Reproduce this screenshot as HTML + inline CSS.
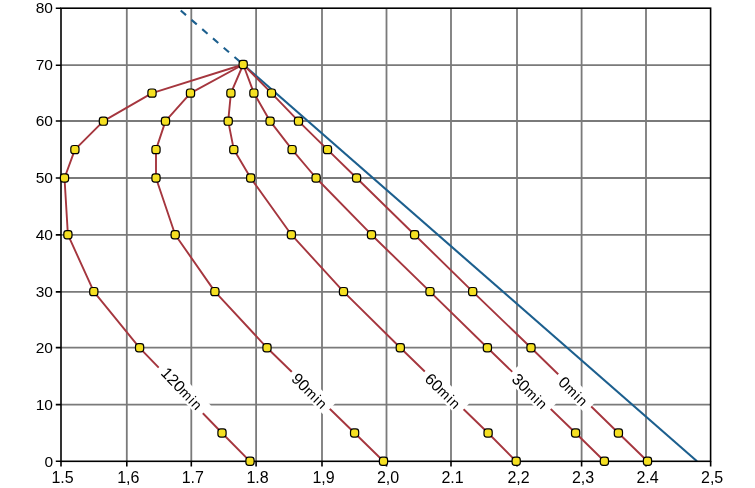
<!DOCTYPE html>
<html><head><meta charset="utf-8"><style>html,body{margin:0;padding:0;background:#fff;width:755px;height:488px;overflow:hidden}svg{display:block;filter:blur(0.3px)}</style></head>
<body>
<svg width="755" height="488" viewBox="0 0 755 488">
<rect width="755" height="488" fill="#fff"/>
<path d="M126.8 8.2V461.3 M191.3 8.2V461.3 M256.1 8.2V461.3 M322.0 8.2V461.3 M386.5 8.2V461.3 M451.0 8.2V461.3 M517.0 8.2V461.3 M581.6 8.2V461.3 M646.0 8.2V461.3 M61 65.2H710.6 M61 121.0H710.6 M61 178.0H710.6 M61 234.9H710.6 M61 291.9H710.6 M61 347.6H710.6 M61 404.6H710.6" stroke="#7a7a7a" stroke-width="1.8" fill="none"/>
<line x1="243.2" y1="64.5" x2="697.0" y2="461.3" stroke="#1c5f8e" stroke-width="2.1"/>
<line x1="178.0" y1="8.2" x2="243.2" y2="64.5" stroke="#1c5f8e" stroke-width="2.1" stroke-dasharray="7 7.2" stroke-dashoffset="10.6"/>
<path d="M243.2 64.5 L152 93.1 L103.4 121.15 L74.9 149.6 L64.5 178.0 L67.9 234.7 L93.8 291.6 L139.6 347.8 L222 433.0 L250 461.3" stroke="#a5363e" stroke-width="1.9" fill="none" stroke-linejoin="round"/>
<path d="M243.2 64.5 L190.5 93.1 L165.5 121.15 L156 149.6 L156 178.0 L175.2 234.7 L214.9 291.6 L267 347.8 L354.6 433.0 L383.5 461.3" stroke="#a5363e" stroke-width="1.9" fill="none" stroke-linejoin="round"/>
<path d="M243.2 64.5 L230.9 93.1 L228.2 121.15 L233.8 149.6 L250.7 178.0 L291.4 234.7 L343.5 291.6 L400.3 347.8 L488.1 433.0 L516.2 461.3" stroke="#a5363e" stroke-width="1.9" fill="none" stroke-linejoin="round"/>
<path d="M243.2 64.5 L253.9 93.1 L270.1 121.15 L292.1 149.6 L316.1 178.0 L371.5 234.7 L430 291.6 L487.4 347.8 L575.6 433.0 L604.4 461.3" stroke="#a5363e" stroke-width="1.9" fill="none" stroke-linejoin="round"/>
<path d="M243.2 64.5 L271.5 93.1 L298.5 121.15 L327.5 149.6 L356.6 178.0 L414.6 234.7 L472.7 291.6 L531 347.8 L618.4 433.0 L647.5 461.3" stroke="#a5363e" stroke-width="1.9" fill="none" stroke-linejoin="round"/>
<g transform="translate(182.81 388.45) rotate(45.96)"><rect x="-31.75" y="-8.4" width="63.5" height="16.8" fill="#fff"/><text x="0" y="6.3" text-anchor="middle" font-size="16" font-family="Liberation Sans, Arial, sans-serif" fill="#000">120<tspan font-size="14.2" letter-spacing="1.1">min</tspan></text></g>
<g transform="translate(310.59 390.62) rotate(44.20)"><rect x="-26.5" y="-8.25" width="53" height="16.5" fill="#fff"/><text x="0" y="6.3" text-anchor="middle" font-size="16" font-family="Liberation Sans, Arial, sans-serif" fill="#000">90<tspan font-size="14.2" letter-spacing="1.1">min</tspan></text></g>
<g transform="translate(443.85 390.76) rotate(44.14)"><rect x="-27.0" y="-8.5" width="54" height="17" fill="#fff"/><text x="0" y="6.3" text-anchor="middle" font-size="16" font-family="Liberation Sans, Arial, sans-serif" fill="#000">60<tspan font-size="14.2" letter-spacing="1.1">min</tspan></text></g>
<g transform="translate(530.87 391.05) rotate(44.01)"><rect x="-26.75" y="-8.6" width="53.5" height="17.2" fill="#fff"/><text x="0" y="6.3" text-anchor="middle" font-size="16" font-family="Liberation Sans, Arial, sans-serif" fill="#000">30<tspan font-size="14.2" letter-spacing="1.1">min</tspan></text></g>
<g transform="translate(574.21 390.90) rotate(44.27)"><rect x="-23.0" y="-8.4" width="46" height="16.8" fill="#fff"/><text x="0" y="6.3" text-anchor="middle" font-size="16" font-family="Liberation Sans, Arial, sans-serif" fill="#000">0<tspan font-size="14.2" letter-spacing="1.1">min</tspan></text></g>
<rect x="61" y="8.2" width="649.6" height="453.1" fill="none" stroke="#000" stroke-width="1.6"/>
<path d="M61.0 461.3V466.5 M126.8 461.3V466.5 M191.3 461.3V466.5 M256.1 461.3V466.5 M322.0 461.3V466.5 M386.5 461.3V466.5 M451.0 461.3V466.5 M517.0 461.3V466.5 M581.6 461.3V466.5 M646.0 461.3V466.5 M710.65 461.3V466.5 M55.8 8.25H61 M55.8 65.2H61 M55.8 121.0H61 M55.8 178.0H61 M55.8 234.9H61 M55.8 291.9H61 M55.8 347.6H61 M55.8 404.6H61 M55.8 461.3H61" stroke="#000" stroke-width="1.6" fill="none"/>
<text x="62.5" y="483.3" text-anchor="middle" font-size="16" font-family="Liberation Sans, Arial, sans-serif">1.5</text>
<text x="128.3" y="483.3" text-anchor="middle" font-size="16" font-family="Liberation Sans, Arial, sans-serif">1,6</text>
<text x="192.8" y="483.3" text-anchor="middle" font-size="16" font-family="Liberation Sans, Arial, sans-serif">1.7</text>
<text x="257.6" y="483.3" text-anchor="middle" font-size="16" font-family="Liberation Sans, Arial, sans-serif">1.8</text>
<text x="323.5" y="483.3" text-anchor="middle" font-size="16" font-family="Liberation Sans, Arial, sans-serif">1,9</text>
<text x="388.0" y="483.3" text-anchor="middle" font-size="16" font-family="Liberation Sans, Arial, sans-serif">2,0</text>
<text x="452.5" y="483.3" text-anchor="middle" font-size="16" font-family="Liberation Sans, Arial, sans-serif">2.1</text>
<text x="518.5" y="483.3" text-anchor="middle" font-size="16" font-family="Liberation Sans, Arial, sans-serif">2,2</text>
<text x="583.1" y="483.3" text-anchor="middle" font-size="16" font-family="Liberation Sans, Arial, sans-serif">2,3</text>
<text x="647.5" y="483.3" text-anchor="middle" font-size="16" font-family="Liberation Sans, Arial, sans-serif">2.4</text>
<text x="712.15" y="483.3" text-anchor="middle" font-size="16" font-family="Liberation Sans, Arial, sans-serif">2,5</text>
<text x="53.0" y="13.4" text-anchor="end" font-size="15.5" font-family="Liberation Sans, Arial, sans-serif">80</text>
<text x="53.0" y="70.4" text-anchor="end" font-size="15.5" font-family="Liberation Sans, Arial, sans-serif">70</text>
<text x="53.0" y="126.2" text-anchor="end" font-size="15.5" font-family="Liberation Sans, Arial, sans-serif">60</text>
<text x="53.0" y="183.2" text-anchor="end" font-size="15.5" font-family="Liberation Sans, Arial, sans-serif">50</text>
<text x="53.0" y="240.1" text-anchor="end" font-size="15.5" font-family="Liberation Sans, Arial, sans-serif">40</text>
<text x="53.0" y="297.1" text-anchor="end" font-size="15.5" font-family="Liberation Sans, Arial, sans-serif">30</text>
<text x="53.0" y="352.8" text-anchor="end" font-size="15.5" font-family="Liberation Sans, Arial, sans-serif">20</text>
<text x="53.0" y="409.8" text-anchor="end" font-size="15.5" font-family="Liberation Sans, Arial, sans-serif">10</text>
<text x="53.0" y="466.5" text-anchor="end" font-size="15.5" font-family="Liberation Sans, Arial, sans-serif">0</text>
<rect x="239.10" y="60.40" width="8.2" height="8.2" rx="2.8" fill="#f5e022" stroke="#000" stroke-width="1.2"/>
<rect x="147.90" y="89.00" width="8.2" height="8.2" rx="2.8" fill="#f5e022" stroke="#000" stroke-width="1.2"/>
<rect x="99.30" y="117.05" width="8.2" height="8.2" rx="2.8" fill="#f5e022" stroke="#000" stroke-width="1.2"/>
<rect x="70.80" y="145.50" width="8.2" height="8.2" rx="2.8" fill="#f5e022" stroke="#000" stroke-width="1.2"/>
<rect x="60.40" y="173.90" width="8.2" height="8.2" rx="2.8" fill="#f5e022" stroke="#000" stroke-width="1.2"/>
<rect x="63.80" y="230.60" width="8.2" height="8.2" rx="2.8" fill="#f5e022" stroke="#000" stroke-width="1.2"/>
<rect x="89.70" y="287.50" width="8.2" height="8.2" rx="2.8" fill="#f5e022" stroke="#000" stroke-width="1.2"/>
<rect x="135.50" y="343.70" width="8.2" height="8.2" rx="2.8" fill="#f5e022" stroke="#000" stroke-width="1.2"/>
<rect x="217.90" y="428.90" width="8.2" height="8.2" rx="2.8" fill="#f5e022" stroke="#000" stroke-width="1.2"/>
<rect x="245.90" y="457.20" width="8.2" height="8.2" rx="2.8" fill="#f5e022" stroke="#000" stroke-width="1.2"/>
<rect x="186.40" y="89.00" width="8.2" height="8.2" rx="2.8" fill="#f5e022" stroke="#000" stroke-width="1.2"/>
<rect x="161.40" y="117.05" width="8.2" height="8.2" rx="2.8" fill="#f5e022" stroke="#000" stroke-width="1.2"/>
<rect x="151.90" y="145.50" width="8.2" height="8.2" rx="2.8" fill="#f5e022" stroke="#000" stroke-width="1.2"/>
<rect x="151.90" y="173.90" width="8.2" height="8.2" rx="2.8" fill="#f5e022" stroke="#000" stroke-width="1.2"/>
<rect x="171.10" y="230.60" width="8.2" height="8.2" rx="2.8" fill="#f5e022" stroke="#000" stroke-width="1.2"/>
<rect x="210.80" y="287.50" width="8.2" height="8.2" rx="2.8" fill="#f5e022" stroke="#000" stroke-width="1.2"/>
<rect x="262.90" y="343.70" width="8.2" height="8.2" rx="2.8" fill="#f5e022" stroke="#000" stroke-width="1.2"/>
<rect x="350.50" y="428.90" width="8.2" height="8.2" rx="2.8" fill="#f5e022" stroke="#000" stroke-width="1.2"/>
<rect x="379.40" y="457.20" width="8.2" height="8.2" rx="2.8" fill="#f5e022" stroke="#000" stroke-width="1.2"/>
<rect x="226.80" y="89.00" width="8.2" height="8.2" rx="2.8" fill="#f5e022" stroke="#000" stroke-width="1.2"/>
<rect x="224.10" y="117.05" width="8.2" height="8.2" rx="2.8" fill="#f5e022" stroke="#000" stroke-width="1.2"/>
<rect x="229.70" y="145.50" width="8.2" height="8.2" rx="2.8" fill="#f5e022" stroke="#000" stroke-width="1.2"/>
<rect x="246.60" y="173.90" width="8.2" height="8.2" rx="2.8" fill="#f5e022" stroke="#000" stroke-width="1.2"/>
<rect x="287.30" y="230.60" width="8.2" height="8.2" rx="2.8" fill="#f5e022" stroke="#000" stroke-width="1.2"/>
<rect x="339.40" y="287.50" width="8.2" height="8.2" rx="2.8" fill="#f5e022" stroke="#000" stroke-width="1.2"/>
<rect x="396.20" y="343.70" width="8.2" height="8.2" rx="2.8" fill="#f5e022" stroke="#000" stroke-width="1.2"/>
<rect x="484.00" y="428.90" width="8.2" height="8.2" rx="2.8" fill="#f5e022" stroke="#000" stroke-width="1.2"/>
<rect x="512.10" y="457.20" width="8.2" height="8.2" rx="2.8" fill="#f5e022" stroke="#000" stroke-width="1.2"/>
<rect x="249.80" y="89.00" width="8.2" height="8.2" rx="2.8" fill="#f5e022" stroke="#000" stroke-width="1.2"/>
<rect x="266.00" y="117.05" width="8.2" height="8.2" rx="2.8" fill="#f5e022" stroke="#000" stroke-width="1.2"/>
<rect x="288.00" y="145.50" width="8.2" height="8.2" rx="2.8" fill="#f5e022" stroke="#000" stroke-width="1.2"/>
<rect x="312.00" y="173.90" width="8.2" height="8.2" rx="2.8" fill="#f5e022" stroke="#000" stroke-width="1.2"/>
<rect x="367.40" y="230.60" width="8.2" height="8.2" rx="2.8" fill="#f5e022" stroke="#000" stroke-width="1.2"/>
<rect x="425.90" y="287.50" width="8.2" height="8.2" rx="2.8" fill="#f5e022" stroke="#000" stroke-width="1.2"/>
<rect x="483.30" y="343.70" width="8.2" height="8.2" rx="2.8" fill="#f5e022" stroke="#000" stroke-width="1.2"/>
<rect x="571.50" y="428.90" width="8.2" height="8.2" rx="2.8" fill="#f5e022" stroke="#000" stroke-width="1.2"/>
<rect x="600.30" y="457.20" width="8.2" height="8.2" rx="2.8" fill="#f5e022" stroke="#000" stroke-width="1.2"/>
<rect x="267.40" y="89.00" width="8.2" height="8.2" rx="2.8" fill="#f5e022" stroke="#000" stroke-width="1.2"/>
<rect x="294.40" y="117.05" width="8.2" height="8.2" rx="2.8" fill="#f5e022" stroke="#000" stroke-width="1.2"/>
<rect x="323.40" y="145.50" width="8.2" height="8.2" rx="2.8" fill="#f5e022" stroke="#000" stroke-width="1.2"/>
<rect x="352.50" y="173.90" width="8.2" height="8.2" rx="2.8" fill="#f5e022" stroke="#000" stroke-width="1.2"/>
<rect x="410.50" y="230.60" width="8.2" height="8.2" rx="2.8" fill="#f5e022" stroke="#000" stroke-width="1.2"/>
<rect x="468.60" y="287.50" width="8.2" height="8.2" rx="2.8" fill="#f5e022" stroke="#000" stroke-width="1.2"/>
<rect x="526.90" y="343.70" width="8.2" height="8.2" rx="2.8" fill="#f5e022" stroke="#000" stroke-width="1.2"/>
<rect x="614.30" y="428.90" width="8.2" height="8.2" rx="2.8" fill="#f5e022" stroke="#000" stroke-width="1.2"/>
<rect x="643.40" y="457.20" width="8.2" height="8.2" rx="2.8" fill="#f5e022" stroke="#000" stroke-width="1.2"/>
</svg>
</body></html>
